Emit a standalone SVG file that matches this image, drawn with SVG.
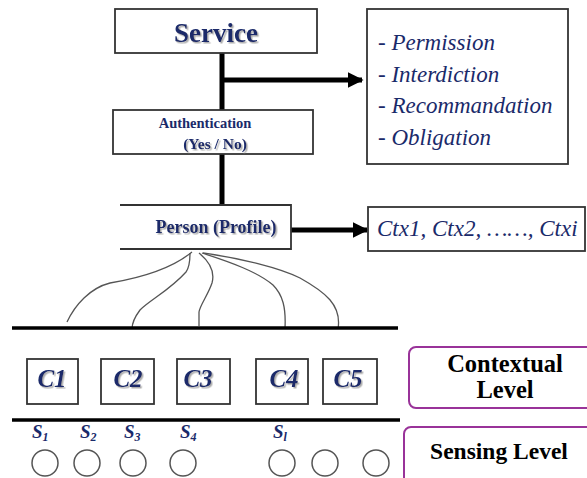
<svg xmlns="http://www.w3.org/2000/svg" width="587" height="478" viewBox="0 0 587 478" font-family="Liberation Serif, serif">
<defs>
<filter id="sh" x="-10%" y="-10%" width="130%" height="140%">
<feDropShadow dx="1.5" dy="1.5" stdDeviation="0.6" flood-color="#999" flood-opacity="0.8"/>
</filter>
<marker id="ah" viewBox="0 0 10 10" refX="9" refY="5" markerWidth="3.2" markerHeight="3.6" orient="auto" markerUnits="strokeWidth">
<path d="M0,0 L10,5 L0,10 Z" fill="#000"/>
</marker>
</defs>
<style>
.box{fill:#fff;stroke:#333;stroke-width:1.8}
.navy{fill:#1a2a6a}
.lvl{fill:#fff;stroke:#993399;stroke-width:2}
.blk{fill:#000}
.thick{stroke:#000;stroke-width:5;fill:none}
.curve{stroke:#555;stroke-width:1.3;fill:none}
.sens{fill:#fff;stroke:#555;stroke-width:1.5}
.rule{stroke:#000;stroke-width:3.5}
</style>
<g id="connectors">
<line class="thick" x1="222" y1="53" x2="222" y2="205"/>
<line class="thick" x1="222" y1="80" x2="362" y2="80" marker-end="url(#ah)"/>
<line class="thick" x1="291" y1="230" x2="367" y2="230" marker-end="url(#ah)"/>
<path class="curve" d="M192,252 C170,270 140,278 110,283 C90,288 75,305 67,322"/>
<path class="curve" d="M190,253 C190,262 189,268 186,272 C170,290 150,300 140,310 C134,318 132,324 132,329"/>
<path class="curve" d="M199,253 C210,262 215,272 212,283 C208,295 200,305 199,312 L199,326"/>
<path class="curve" d="M202,253 C230,262 258,272 273,285 C283,295 286,308 285,328"/>
<path class="curve" d="M203,253 C240,258 280,268 300,278 C325,292 342,305 338,329"/>
<line class="rule" x1="12" y1="328" x2="398" y2="328"/>
<line class="rule" x1="12" y1="420" x2="400" y2="420"/>
</g>
<g id="service">
<rect class="box" x="115" y="9" width="202" height="44"/>
<text class="navy" style="font-family:'Liberation Serif',serif !important" font-family="Liberation Serif" font-weight="bold" x="216" y="42" font-size="27" text-anchor="middle" filter="url(#sh)">Service</text>
</g>
<g id="actions">
<rect class="box" x="367" y="9" width="201" height="155"/>
<text class="navy" style="font-family:'Liberation Serif',serif !important" font-family="Liberation Serif" font-style="italic" x="378" y="50" font-size="23">- Permission</text>
<text class="navy" style="font-family:'Liberation Serif',serif !important" font-family="Liberation Serif" font-style="italic" x="378" y="82" font-size="23">- Interdiction</text>
<text class="navy" style="font-family:'Liberation Serif',serif !important" font-family="Liberation Serif" font-style="italic" x="378" y="113" font-size="23">- Recommandation</text>
<text class="navy" style="font-family:'Liberation Serif',serif !important" font-family="Liberation Serif" font-style="italic" x="378" y="145" font-size="23">- Obligation</text>
</g>
<g id="authentication">
<rect class="box" x="113" y="110" width="200" height="44"/>
<text class="navy" style="font-family:'Liberation Serif',serif !important" font-family="Liberation Serif" font-weight="bold" x="205" y="128" font-size="14.5" text-anchor="middle">Authentication</text>
<text class="navy" style="font-family:'Liberation Serif',serif !important" font-family="Liberation Serif" font-weight="bold" x="215" y="149" font-size="15.5" text-anchor="middle" filter="url(#sh)">(Yes / No)</text>
</g>
<g id="person">
<path d="M120,205 H291 V249 H120" fill="#fff" stroke="#333" stroke-width="1.8"/>
<text class="navy" style="font-family:'Liberation Serif',serif !important" font-family="Liberation Serif" font-weight="bold" x="216" y="233" font-size="18" text-anchor="middle" filter="url(#sh)">Person (Profile)</text>
</g>
<g id="contexts">
<rect class="box" x="368" y="207" width="217" height="44"/>
<text class="navy" style="font-family:'Liberation Serif',serif !important" font-family="Liberation Serif" font-style="italic" x="377" y="236" font-size="23">Ctx1, Ctx2, ……, Ctxi</text>
</g>
<g id="c1"><rect class="box" x="27" y="359" width="51" height="45"/><text class="navy" style="font-family:'Liberation Serif',serif !important" font-family="Liberation Serif" font-weight="bold" font-style="italic" x="52" y="387" font-size="25" text-anchor="middle" filter="url(#sh)">C1</text></g>
<g id="c2"><rect class="box" x="101" y="359" width="53" height="45"/><text class="navy" style="font-family:'Liberation Serif',serif !important" font-family="Liberation Serif" font-weight="bold" font-style="italic" x="128" y="387" font-size="25" text-anchor="middle" filter="url(#sh)">C2</text></g>
<g id="c3"><rect class="box" x="177" y="359" width="53" height="45"/><text class="navy" style="font-family:'Liberation Serif',serif !important" font-family="Liberation Serif" font-weight="bold" font-style="italic" x="198" y="387" font-size="25" text-anchor="middle" filter="url(#sh)">C3</text></g>
<g id="c4"><rect class="box" x="256" y="359" width="52" height="45"/><text class="navy" style="font-family:'Liberation Serif',serif !important" font-family="Liberation Serif" font-weight="bold" font-style="italic" x="284" y="387" font-size="25" text-anchor="middle" filter="url(#sh)">C4</text></g>
<g id="c5"><rect class="box" x="323" y="359" width="54" height="45"/><text class="navy" style="font-family:'Liberation Serif',serif !important" font-family="Liberation Serif" font-weight="bold" font-style="italic" x="348" y="387" font-size="25" text-anchor="middle" filter="url(#sh)">C5</text></g>
<g id="contextual-level">
<rect class="lvl" x="409" y="347" width="200" height="61" rx="7"/>
<text class="blk" style="font-family:'Liberation Serif',serif !important" font-family="Liberation Serif" font-weight="bold" x="505" y="372" font-size="24.5" text-anchor="middle">Contextual</text>
<text class="blk" style="font-family:'Liberation Serif',serif !important" font-family="Liberation Serif" font-weight="bold" x="505" y="398" font-size="24.5" text-anchor="middle">Level</text>
</g>
<g id="sensing-level">
<rect class="lvl" x="404" y="427" width="200" height="70" rx="7"/>
<text class="blk" style="font-family:'Liberation Serif',serif !important" font-family="Liberation Serif" font-weight="bold" x="499" y="459" font-size="23.5" text-anchor="middle">Sensing Level</text>
</g>
<g id="sensors">
<text class="navy" style="font-family:'Liberation Serif',serif !important" font-family="Liberation Serif" font-weight="bold" font-style="italic" x="32" y="438" font-size="19">S<tspan font-size="12" dy="3">1</tspan></text>
<text class="navy" style="font-family:'Liberation Serif',serif !important" font-family="Liberation Serif" font-weight="bold" font-style="italic" x="80" y="438" font-size="19">S<tspan font-size="12" dy="3">2</tspan></text>
<text class="navy" style="font-family:'Liberation Serif',serif !important" font-family="Liberation Serif" font-weight="bold" font-style="italic" x="124" y="438" font-size="19">S<tspan font-size="12" dy="3">3</tspan></text>
<text class="navy" style="font-family:'Liberation Serif',serif !important" font-family="Liberation Serif" font-weight="bold" font-style="italic" x="180" y="438" font-size="19">S<tspan font-size="12" dy="3">4</tspan></text>
<text class="navy" style="font-family:'Liberation Serif',serif !important" font-family="Liberation Serif" font-weight="bold" font-style="italic" x="273" y="438" font-size="19">S<tspan font-size="12" dy="3">l</tspan></text>
<circle class="sens" cx="45" cy="463" r="13"/>
<circle class="sens" cx="87" cy="463" r="13"/>
<circle class="sens" cx="133" cy="463" r="13"/>
<circle class="sens" cx="183" cy="463" r="13"/>
<circle class="sens" cx="282" cy="463" r="13"/>
<circle class="sens" cx="325" cy="463" r="13"/>
<circle class="sens" cx="376" cy="463" r="13"/>
</g>
</svg>
